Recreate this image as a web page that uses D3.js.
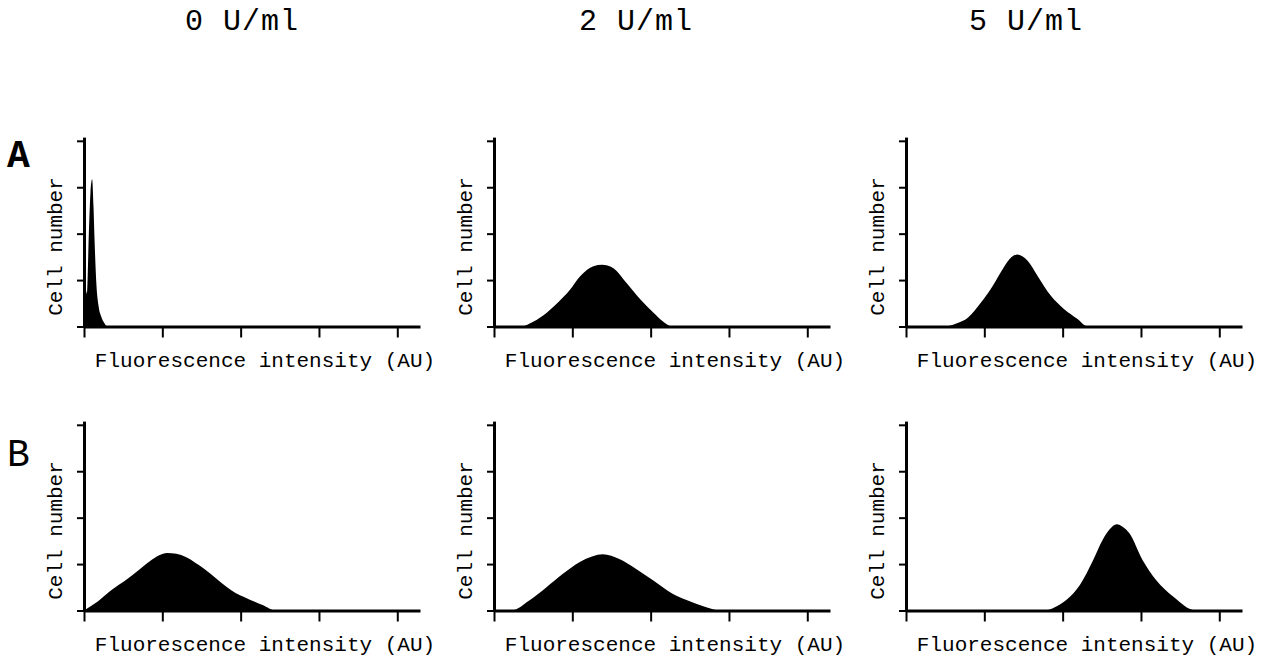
<!DOCTYPE html>
<html>
<head>
<meta charset="utf-8">
<script src="https://cdn.jsdelivr.net/npm/d3@7"></script>
<style>
  body { margin: 0; background: #fff; }
  text { font-family: 'Liberation Mono', 'Courier New', monospace; fill: #000; }
</style>
</head>
<body>
<div id="chart"></div>
<script>
// doses (columns) and treatments (rows)
const doses = ['0 U/ml', '2 U/ml', '5 U/ml']
const rows = ['A', 'B']
const xTicks = [0, 1, 2, 3, 4] // log decades
const yTicks = [0, 1, 2, 3, 4]
const xLabel = 'Fluorescence intensity (AU)'
const yLabel = 'Cell number'

// histograms: [intensity (decades), cell number]
const histA0 = [[0, 0.78], [0.02, 0.8], [0.038, 0.7], [0.061, 1.96], [0.083, 2.9], [0.104, 3.17], [0.121, 2.6], [0.134, 1.9], [0.159, 0.89], [0.185, 0.45], [0.223, 0.2], [0.261, 0.07], [0.3, 0], [4.29, 0]]
const histA2 = [[0, 0], [0.35, 0], [0.5, 0.1], [0.67, 0.29], [0.82, 0.52], [0.97, 0.79], [1.1, 1.08], [1.27, 1.3], [1.38, 1.33], [1.52, 1.26], [1.69, 0.94], [1.87, 0.58], [2.04, 0.29], [2.15, 0.12], [2.28, 0], [4.29, 0]]
const histA5 = [[0, 0], [0.49, 0], [0.65, 0.07], [0.79, 0.19], [0.96, 0.52], [1.08, 0.8], [1.21, 1.17], [1.32, 1.45], [1.42, 1.55], [1.55, 1.42], [1.68, 1.09], [1.85, 0.66], [2.02, 0.37], [2.19, 0.16], [2.32, 0], [4.29, 0]]
const histB0 = [[0, 0], [0.18, 0.2], [0.36, 0.45], [0.54, 0.66], [0.7, 0.87], [0.84, 1.06], [0.96, 1.19], [1.06, 1.24], [1.18, 1.22], [1.3, 1.15], [1.42, 1.03], [1.55, 0.88], [1.68, 0.7], [1.81, 0.52], [1.94, 0.37], [2.07, 0.27], [2.18, 0.19], [2.28, 0.12], [2.45, 0], [4.29, 0]]
const histB2 = [[0, 0], [0.22, 0], [0.455, 0.22], [0.67, 0.5], [0.88, 0.79], [1.09, 1.04], [1.26, 1.17], [1.39, 1.21], [1.6, 1.11], [1.81, 0.9], [2.03, 0.65], [2.28, 0.36], [2.45, 0.23], [2.71, 0.07], [2.88, 0], [4.29, 0]]
const histB5 = [[0, 0], [1.77, 0], [1.9, 0.07], [2.05, 0.23], [2.22, 0.55], [2.39, 1.09], [2.51, 1.52], [2.6, 1.75], [2.69, 1.86], [2.77, 1.8], [2.85, 1.67], [3.02, 1.09], [3.19, 0.66], [3.41, 0.3], [3.7, 0], [4.29, 0]]

const hists = [[histA0, histA2, histA5], [histB0, histB2, histB5]]

const width = 1266
const height = 656
const colX = [84, 494, 906]
const rowBase = [326.5, 610.5]
const rowLetterY = [167, 466]
const titleX = [242, 636, 1026]
const plotW = 336
const plotH = 189.4

const svg = d3
  .select('#chart')
  .append('svg')
  .attr('width', width)
  .attr('height', height)

var x = d3.scaleLinear().domain([0, 4.29]).range([0, plotW])
var y = d3.scaleLinear().domain([0, 4.08]).range([plotH, 0])

const area = d3
  .area()
  .x(d => x(d[0]))
  .y0(y(0))
  .y1(d => y(d[1]))
  .curve(d3.curveMonotoneX)

// column titles
svg
  .selectAll('.title')
  .data(doses)
  .enter()
  .append('text')
  .attr('x', (d, i) => titleX[i])
  .attr('y', 30)
  .attr('text-anchor', 'middle')
  .style('font-size', '30px')
  .style('letter-spacing', '1px')
  .text(d => d)

// row letters
svg
  .selectAll('.row')
  .data(rows)
  .enter()
  .append('text')
  .attr('x', 7)
  .attr('y', (d, i) => rowLetterY[i])
  .style('font-size', '38px')
  .style('font-weight', (d, i) => (i === 0 ? 'bold' : 'normal'))
  .text(d => d)

rows.forEach((r, ri) => {
  doses.forEach((dose, ci) => {
    const g = svg
      .append('g')
      .attr('transform', 'translate(' + colX[ci] + ',' + (rowBase[ri] - plotH) + ')')

    g.append('path')
      .datum(hists[ri][ci])
      .attr('d', area)
      .attr('fill', '#000')

    // X axis
    const gx = g
      .append('g')
      .attr('transform', 'translate(0,' + plotH + ')')
      .call(d3.axisBottom(x).tickValues(xTicks).tickFormat('').tickSize(11).tickSizeOuter(0))
    gx.select('.domain').attr('stroke-width', 3)
    gx.selectAll('.tick line').attr('stroke-width', 2)

    // Y axis
    const gy = g
      .append('g')
      .call(d3.axisLeft(y).tickValues(yTicks).tickFormat('').tickSize(7).tickSizeOuter(0))
    gy.select('.domain').attr('stroke-width', 3)
    gy.selectAll('.tick line').attr('stroke-width', 2)

    g.append('text')
      .attr('x', 181)
      .attr('y', plotH + 40.5)
      .attr('text-anchor', 'middle')
      .style('font-size', '21px')
      .text(xLabel)

    g.append('text')
      .attr('transform', 'translate(-22,' + (plotH - 80) + ')rotate(-90)')
      .attr('text-anchor', 'middle')
      .style('font-size', '21px')
      .text(yLabel)
  })
})
</script>
</body>
</html>
